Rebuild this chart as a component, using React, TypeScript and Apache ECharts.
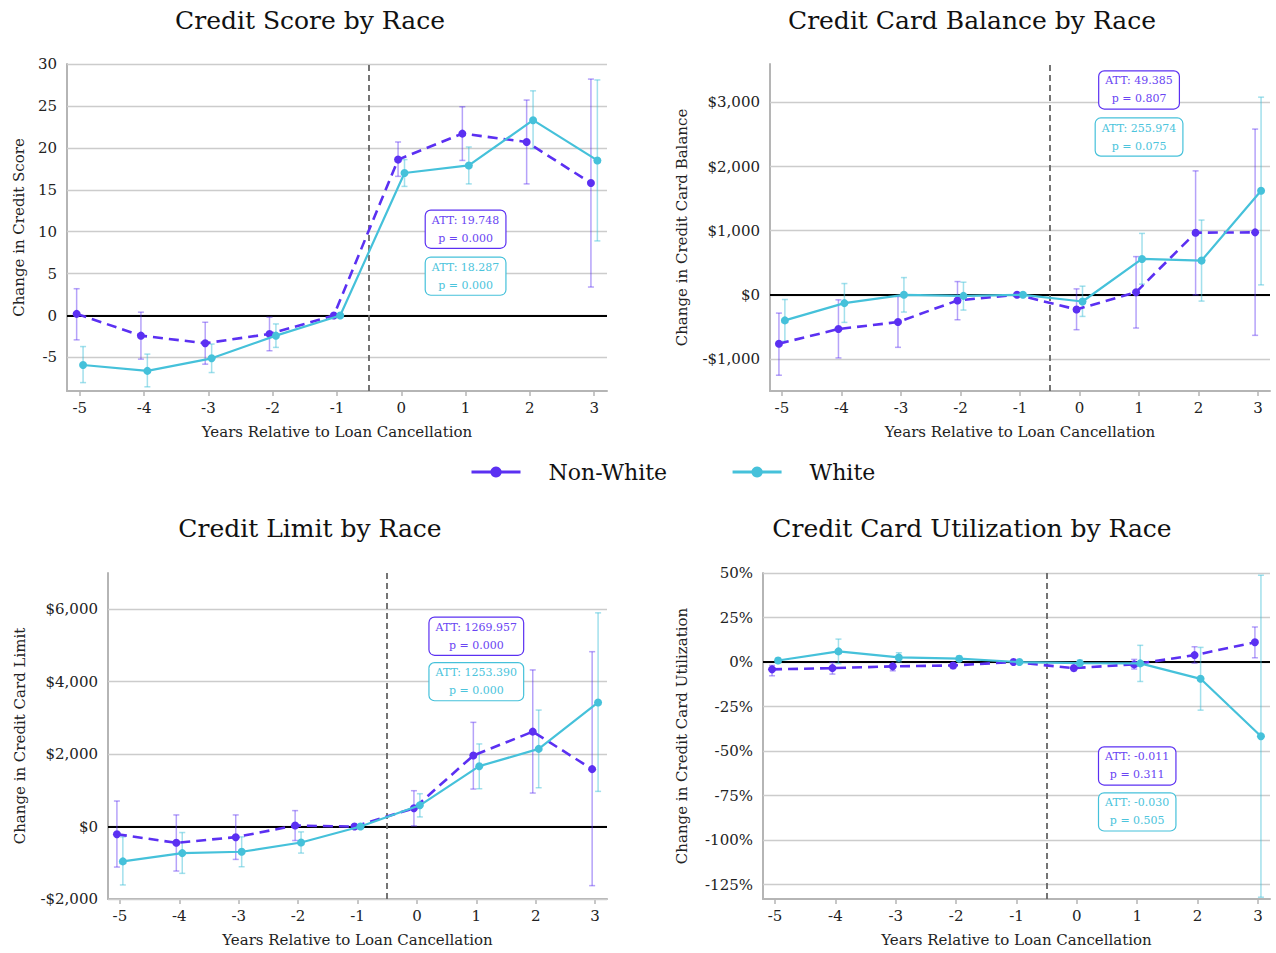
import React, { useEffect, useRef } from "react";
import * as echarts from "echarts";

const FONT = "DejaVu Serif, serif";
const PURPLE = "#5b30f2";
const CYAN = "#45c1da";
const PURPLE_ERR = "rgba(91,48,242,0.45)";
const CYAN_ERR = "rgba(69,193,218,0.5)";

const YEARS = [-5, -4, -3, -2, -1, 0, 1, 2, 3];
const OFFSET = 0.05;

const TITLES = [
  "Credit Score by Race",
  "Credit Card Balance by Race",
  "Credit Limit by Race",
  "Credit Card Utilization by Race",
];
const Y_NAMES = [
  "Change in Credit Score",
  "Change in Credit Card Balance",
  "Change in Credit Card Limit",
  "Change in Credit Card Utilization",
];
const X_NAME = "Years Relative to Loan Cancellation";

// Panel 1: Credit score
const SCORE_NW = [0.2, -2.4, -3.3, -2.2, 0, 18.6, 21.7, 20.7, 15.8];
const SCORE_NW_LO = [-2.9, -5.2, -5.8, -4.2, 0, 16.6, 18.5, 15.7, 3.4];
const SCORE_NW_HI = [3.2, 0.4, -0.8, -0.2, 0, 20.7, 24.9, 25.7, 28.2];
const SCORE_W = [-5.9, -6.6, -5.1, -2.4, 0, 17.0, 17.9, 23.3, 18.5];
const SCORE_W_LO = [-8.0, -8.5, -6.8, -3.8, 0, 15.4, 15.7, 19.9, 8.9];
const SCORE_W_HI = [-3.7, -4.6, -3.4, -1.0, 0, 18.6, 20.1, 26.8, 28.1];
const SCORE_TICKS = [-5, 0, 5, 10, 15, 20, 25, 30];

// Panel 2: Credit card balance
const BAL_NW = [-762, -534, -425, -88, 0, -228, 41, 969, 974];
const BAL_NW_LO = [-1254, -984, -819, -389, 0, -544, -518, 0, -632];
const BAL_NW_HI = [-285, -78, -26, 207, 0, 93, 596, 1933, 2585];
const BAL_W = [-399, -130, 0, -16, 0, -104, 560, 534, 1622];
const BAL_W_LO = [-725, -430, -269, -238, 0, -337, 166, -98, 155];
const BAL_W_HI = [-73, 176, 269, 197, 0, 135, 958, 1166, 3083];
const BAL_TICKS = [-1000, 0, 1000, 2000, 3000];

// Panel 3: Credit limit
const LIM_NW = [-211, -449, -293, 27, 0, 504, 1961, 2620, 1585];
const LIM_NW_LO = [-1118, -1228, -907, -385, 0, 18, 1035, 925, -1631];
const LIM_NW_HI = [705, 321, 321, 440, 0, 990, 2877, 4324, 4828];
const LIM_W = [-962, -733, -696, -440, 0, 586, 1667, 2144, 3427];
const LIM_W_LO = [-1612, -1292, -1109, -733, 0, 266, 1044, 1072, 971];
const LIM_W_HI = [-284, -165, -284, -147, 0, 907, 2281, 3216, 5900];
const LIM_TICKS = [-2000, 0, 2000, 4000, 6000];

// Panel 4: Utilization (fraction)
const UTIL_NW = [-0.041, -0.034, -0.024, -0.019, 0, -0.034, -0.013, 0.039, 0.111];
const UTIL_NW_LO = [-0.077, -0.0675, -0.049, -0.036, 0, -0.049, -0.039, -0.006, 0.024];
const UTIL_NW_HI = [-0.019, -0.002, -0.011, -0.006, 0, -0.019, 0.015, 0.086, 0.197];
const UTIL_W = [0.009, 0.06, 0.026, 0.019, 0, -0.006, -0.0075, -0.094, -0.416];
const UTIL_W_LO = [-0.004, -0.009, 0.0, 0.004, 0, -0.0225, -0.109, -0.27, -1.32];
const UTIL_W_HI = [0.0225, 0.129, 0.0525, 0.034, 0, 0.011, 0.094, 0.0825, 0.4875];
const UTIL_TICKS = [-1.25, -1.0, -0.75, -0.5, -0.25, 0, 0.25, 0.5];

// ATT annotations
const ATT_NW = ["ATT: 19.748\np = 0.000", "ATT: 49.385\np = 0.807", "ATT: 1269.957\np = 0.000", "ATT: -0.011\np = 0.311"];
const ATT_W = ["ATT: 18.287\np = 0.000", "ATT: 255.974\np = 0.075", "ATT: 1253.390\np = 0.000", "ATT: -0.030\np = 0.505"];
const ATT_NW_Y = [10.3, 3195, 5255, -0.583];
const ATT_W_Y = [4.7, 2461, 4000, -0.841];
const ATT_X = 1;

const Y_MIN = [-9, -1500, -2000, -1.33];
const Y_MAX = [30, 3600, 7000, 0.5];

const money = (v: number) => {
  const s = "$" + Math.abs(v).toLocaleString("en-US");
  return v < 0 ? "-" + s : s;
};
const FORMATTERS = [
  (v: number) => String(v),
  money,
  money,
  (v: number) => Math.round(v * 100) + "%",
];

const PANELS = [
  { nw: SCORE_NW, nwLo: SCORE_NW_LO, nwHi: SCORE_NW_HI, w: SCORE_W, wLo: SCORE_W_LO, wHi: SCORE_W_HI, ticks: SCORE_TICKS },
  { nw: BAL_NW, nwLo: BAL_NW_LO, nwHi: BAL_NW_HI, w: BAL_W, wLo: BAL_W_LO, wHi: BAL_W_HI, ticks: BAL_TICKS },
  { nw: LIM_NW, nwLo: LIM_NW_LO, nwHi: LIM_NW_HI, w: LIM_W, wLo: LIM_W_LO, wHi: LIM_W_HI, ticks: LIM_TICKS },
  { nw: UTIL_NW, nwLo: UTIL_NW_LO, nwHi: UTIL_NW_HI, w: UTIL_W, wLo: UTIL_W_LO, wHi: UTIL_W_HI, ticks: UTIL_TICKS },
];

const GRIDS = [
  { left: 67, top: 64, width: 540, height: 327 },
  { left: 770, top: 64, width: 500, height: 327 },
  { left: 108, top: 573, width: 499, height: 326 },
  { left: 763, top: 573, width: 507, height: 326 },
];
const Y_NAME_GAP = [41, 81, 81, 74];
const TITLE_POS = [
  { left: 310, top: 8 },
  { left: 972, top: 8 },
  { left: 310, top: 516 },
  { left: 972, top: 516 },
];

function errRender(color: string) {
  return (params: any, api: any) => {
    const x = api.value(0);
    const lo = api.value(1);
    const hi = api.value(2);
    if (lo === hi) return null;
    const a = api.coord([x, lo]);
    const b = api.coord([x, hi]);
    const w = 3;
    const style = { stroke: color, lineWidth: 1.5, fill: "none" };
    return {
      type: "group",
      children: [
        { type: "line", shape: { x1: a[0], y1: a[1], x2: b[0], y2: b[1] }, style },
        { type: "line", shape: { x1: a[0] - w, y1: a[1], x2: a[0] + w, y2: a[1] }, style },
        { type: "line", shape: { x1: b[0] - w, y1: b[1], x2: b[0] + w, y2: b[1] }, style },
      ],
    };
  };
}

function attLabel(color: string, textColor: string, text: string) {
  return {
    show: true,
    position: "inside",
    formatter: text,
    fontFamily: FONT,
    fontSize: 11,
    lineHeight: 18,
    color: textColor,
    backgroundColor: "#ffffff",
    borderColor: color,
    borderWidth: 1.2,
    borderRadius: 5,
    padding: [1, 6, 0, 6],
    align: "center",
  };
}

function buildOption() {
  const xAxis: any[] = [];
  const yAxis: any[] = [];
  const series: any[] = [];
  const title: any[] = [];

  PANELS.forEach((p, i) => {
    title.push({
      text: TITLES[i],
      left: TITLE_POS[i].left,
      top: TITLE_POS[i].top,
      textAlign: "center",
      padding: 0,
      textStyle: { fontFamily: FONT, fontSize: 25, fontWeight: "normal", color: "#111" },
    });
    xAxis.push({
      type: "value",
      gridIndex: i,
      min: -5.2,
      max: 3.2,
      name: X_NAME,
      nameLocation: "middle",
      nameGap: 33,
      nameTextStyle: { fontFamily: FONT, fontSize: 15, color: "#222" },
      axisLine: { show: true, onZero: false, lineStyle: { color: "#b5b5b5", width: 2 } },
      axisTick: { show: true, customValues: YEARS, length: 5, lineStyle: { color: "#b5b5b5", width: 1.5 } },
      axisLabel: {
        customValues: YEARS,
        margin: 9,
        fontFamily: FONT,
        fontSize: 15,
        color: "#222",
        formatter: (v: number) => String(v),
      },
      splitLine: { show: false },
    });
    yAxis.push({
      type: "value",
      gridIndex: i,
      min: Y_MIN[i],
      max: Y_MAX[i],
      name: Y_NAMES[i],
      nameLocation: "middle",
      nameGap: Y_NAME_GAP[i],
      nameTextStyle: { fontFamily: FONT, fontSize: 15, color: "#222" },
      axisLine: { show: true, onZero: false, lineStyle: { color: "#b5b5b5", width: 2 } },
      axisTick: { show: false, customValues: p.ticks },
      axisLabel: {
        customValues: p.ticks,
        margin: 10,
        fontFamily: FONT,
        fontSize: 15,
        color: "#222",
        formatter: FORMATTERS[i],
      },
      splitLine: { show: false },
    });

    // background: gridlines, zero line, treatment line
    series.push({
      type: "line",
      xAxisIndex: i,
      yAxisIndex: i,
      data: [],
      silent: true,
      markLine: {
        silent: true,
        z: 1,
        symbol: ["none", "none"],
        label: { show: false },
        animation: false,
        data: [
          ...p.ticks.map((t) => ({ yAxis: t, lineStyle: { color: "#cccccc", width: 1.3, type: "solid" } })),
          { yAxis: 0, lineStyle: { color: "#000000", width: 1.8, type: "solid" } },
          { xAxis: -0.5, lineStyle: { color: "#666666", width: 1.8, type: [6, 4] } },
        ],
      },
    });

    // error bars
    series.push({
      type: "custom",
      name: "Non-White err",
      xAxisIndex: i,
      yAxisIndex: i,
      z: 2,
      silent: true,
      renderItem: errRender(PURPLE_ERR),
      encode: { x: 0, y: [1, 2] },
      data: YEARS.map((yr, k) => [yr - OFFSET, p.nwLo[k], p.nwHi[k]]),
    });
    series.push({
      type: "custom",
      name: "White err",
      xAxisIndex: i,
      yAxisIndex: i,
      z: 2,
      silent: true,
      renderItem: errRender(CYAN_ERR),
      encode: { x: 0, y: [1, 2] },
      data: YEARS.map((yr, k) => [yr + OFFSET, p.wLo[k], p.wHi[k]]),
    });

    series.push({
      type: "line",
      name: "Non-White",
      xAxisIndex: i,
      yAxisIndex: i,
      z: 3,
      symbol: "circle",
      symbolSize: 8,
      itemStyle: { color: PURPLE },
      lineStyle: { color: PURPLE, width: 2.6, type: [10, 6] },
      data: YEARS.map((yr, k) => [yr - OFFSET, p.nw[k]]),
      markPoint: {
        z: 6,
        symbol: "circle",
        symbolSize: 1,
        itemStyle: { color: "rgba(0,0,0,0)" },
        data: [{ coord: [ATT_X, ATT_NW_Y[i]], label: attLabel(PURPLE, "#6a45f3", ATT_NW[i]) }],
      },
    });
    series.push({
      type: "line",
      name: "White",
      xAxisIndex: i,
      yAxisIndex: i,
      z: 4,
      symbol: "circle",
      symbolSize: 8,
      itemStyle: { color: CYAN },
      lineStyle: { color: CYAN, width: 2.2, type: "solid" },
      data: YEARS.map((yr, k) => [yr + OFFSET, p.w[k]]),
      markPoint: {
        z: 6,
        symbol: "circle",
        symbolSize: 1,
        itemStyle: { color: "rgba(0,0,0,0)" },
        data: [{ coord: [ATT_X, ATT_W_Y[i]], label: attLabel(CYAN, "#4cc4dc", ATT_W[i]) }],
      },
    });
  });

  return {
    animation: false,
    backgroundColor: "#ffffff",
    title,
    grid: GRIDS.map((g) => ({ ...g, containLabel: false })),
    xAxis,
    yAxis,
    legend: {
      data: ["Non-White", "White"],
      left: 470,
      top: 461,
      padding: 0,
      itemWidth: 49,
      itemHeight: 14,
      itemGap: 64,
      lineStyle: { type: "solid", width: 3 },
      textStyle: { fontFamily: FONT, fontSize: 22, color: "#111", padding: [0, 0, 0, 23] },
    },
    series,
  };
}

export default function App() {
  const ref = useRef<HTMLDivElement>(null);
  useEffect(() => {
    document.body.style.margin = "0";
    if (!ref.current) return;
    const chart = echarts.init(ref.current, null, { renderer: "svg" });
    chart.setOption(buildOption() as any);
    return () => chart.dispose();
  }, []);
  return <div ref={ref} style={{ width: 1276, height: 953 }} />;
}
